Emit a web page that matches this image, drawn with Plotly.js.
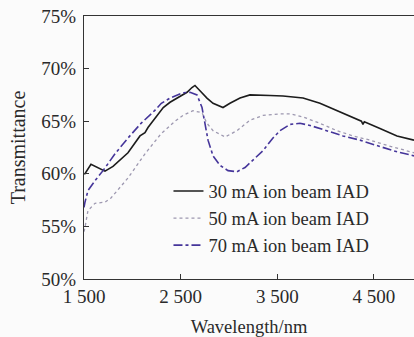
<!DOCTYPE html>
<html>
<head>
<meta charset="utf-8">
<script src="https://cdn.plot.ly/plotly-3.0.1.min.js"></script>
<style>html,body{margin:0;padding:0;background:#fbfbfb;}#chart{width:414px;height:337px;}</style>
</head>
<body>
<div id="chart"></div>
<script>
// Wavelength (nm) and transmittance (%)
const wl30 = [1500,1510,1572,1645,1717,1800,1872,1955,2079,2131,2162,2250,2320,2390,2490,2566,2617,2648,2700,2772,2835,2938,3010,3114,3217,3321,3424,3559,3766,3941,4117,4283,4370,4386,4400,4562,4738,4914];
const t30  = [60.0,60.0,60.9,60.6,60.25,60.7,61.3,62.0,63.6,63.9,64.4,65.5,66.3,66.8,67.3,67.75,68.2,68.4,67.9,67.2,66.7,66.3,66.7,67.2,67.5,67.5,67.45,67.4,67.2,66.7,66.0,65.4,65.0,64.7,64.95,64.3,63.6,63.2];

const wl50 = [1500,1510,1541,1614,1717,1779,1955,2131,2297,2390,2441,2524,2628,2721,2772,2835,2959,3083,3217,3352,3528,3631,3766,3941,4117,4283,4459,4635,4914];
const t50  = [54.5,54.9,56.5,57.2,57.3,57.7,59.6,61.9,63.8,64.6,65.0,65.55,66.0,65.8,64.8,64.1,63.5,64.1,65.1,65.55,65.7,65.7,65.4,64.8,64.1,63.6,63.2,62.7,62.0];

const wl70 = [1500,1510,1541,1614,1697,1821,1955,2090,2230,2300,2390,2524,2597,2669,2721,2752,2783,2835,2907,2990,3083,3166,3248,3352,3455,3528,3631,3734,3838,4014,4179,4355,4531,4697,4914];
const t70  = [56.8,57.3,58.4,59.35,60.3,61.9,63.4,64.8,66.0,66.7,67.2,67.7,67.75,67.5,66.3,64.8,63.2,61.7,60.8,60.3,60.2,60.6,61.3,62.2,63.4,64.1,64.7,64.8,64.6,64.1,63.6,63.2,62.7,62.2,61.7];

const names = ["30 mA ion beam IAD","50 mA ion beam IAD","70 mA ion beam IAD"];
const xTickVals = [1500,2500,3500,4500];
const xTickText = ["1 500","2 500","3 500","4 500"];
const yTickVals = [50,55,60,65,70,75];
const yTickText = ["50%","55%","60%","65%","70%","75%"];

const serif = "Liberation Serif, Times New Roman, serif";
const txt = "#2a2a2a";

const traces = [
  {x: wl30, y: t30, name: names[0], type: "scatter", mode: "lines",
   line: {color: "#1c1c1c", width: 1.6}},
  {x: wl50, y: t50, name: names[1], type: "scatter", mode: "lines",
   line: {color: "#9d98b0", width: 1.3, dash: "dot"}},
  {x: wl70, y: t70, name: names[2], type: "scatter", mode: "lines",
   line: {color: "#45359a", width: 1.6, dash: "dashdot"}}
];

const layout = {
  width: 414, height: 337,
  margin: {l: 84, r: 0, t: 16, b: 58},
  paper_bgcolor: "#fbfbfb",
  plot_bgcolor: "#fbfbfb",
  font: {family: serif, size: 19, color: txt},
  showlegend: true,
  legend: {
    x: 0.256, y: 0.405, xanchor: "left", yanchor: "top",
    bgcolor: "rgba(0,0,0,0)",
    font: {family: serif, size: 18.5, color: txt},
    traceorder: "normal",
    itemwidth: 30
  },
  xaxis: {
    range: [1500, 4914],
    tickvals: xTickVals, ticktext: xTickText,
    ticks: "inside", ticklen: 5, tickcolor: "#333",
    showline: true, linecolor: "#333", linewidth: 1.2, mirror: true,
    showgrid: false, zeroline: false,
    tickfont: {family: serif, size: 19, color: txt},
    title: {text: "Wavelength/nm", font: {family: serif, size: 18.5, color: txt}, standoff: 14}
  },
  yaxis: {
    range: [50, 75],
    tickvals: yTickVals, ticktext: yTickText,
    ticks: "inside", ticklen: 5, tickcolor: "#333",
    showline: true, linecolor: "#333", linewidth: 1.2,
    showgrid: false, zeroline: false,
    ticklabelstandoff: 3,
    tickfont: {family: serif, size: 19, color: txt},
    title: {text: "Transmittance", font: {family: serif, size: 20, color: txt}, standoff: 10}
  }
};

Plotly.newPlot("chart", traces, layout, {displayModeBar: false, staticPlot: true});
</script>
</body>
</html>
